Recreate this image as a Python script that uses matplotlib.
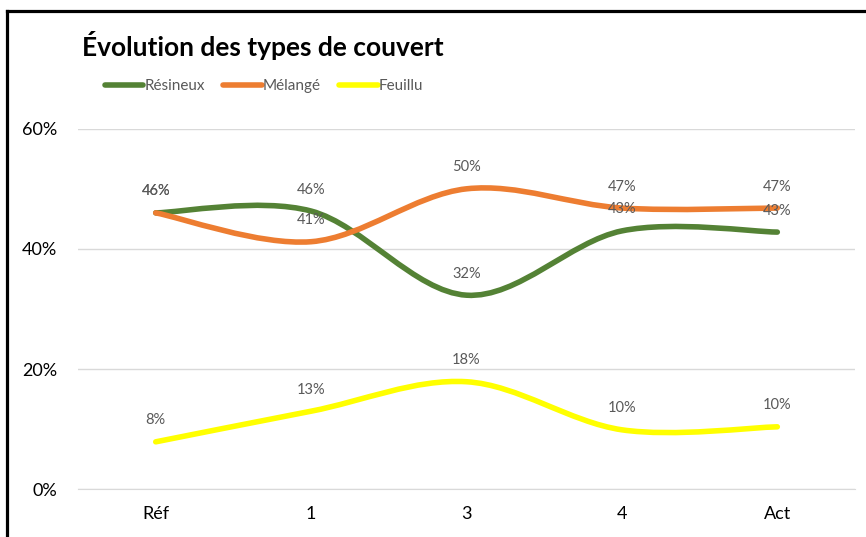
import matplotlib
matplotlib.use("Agg")
import matplotlib.pyplot as plt
from matplotlib.path import Path
from matplotlib.patches import PathPatch
from matplotlib.lines import Line2D
import numpy as np

plt.rcParams['font.family'] = ['Lato', 'DejaVu Sans']

# data
categories = ['Réf', '1', '3', '4', 'Act']
resineux = [0.46, 0.463, 0.323, 0.430, 0.428]
melange = [0.46, 0.412, 0.500, 0.468, 0.468]
feuillu = [0.079, 0.130, 0.179, 0.099, 0.104]
series_names = ['Résineux', 'Mélangé', 'Feuillu']
colors = ['#548235', '#ED7D31', '#FFFF00']
y_ticks = [0, 0.2, 0.4, 0.6]


# Excel-like smoothed line: cubic bezier through the points
def smooth_path(xs, ys):
    pts = np.column_stack([xs, ys]).astype(float)
    n = len(pts)
    verts = [pts[0]]
    codes = [Path.MOVETO]
    for i in range(n - 1):
        p0 = pts[max(i - 1, 0)]
        p1 = pts[i]
        p2 = pts[i + 1]
        p3 = pts[min(i + 2, n - 1)]
        c1 = p1 + (p2 - p0) / 6.0
        c2 = p2 - (p3 - p1) / 6.0
        verts += [c1, c2, p2]
        codes += [Path.CURVE4] * 3
    return Path(verts, codes)


fig = plt.figure(figsize=(8.66, 5.37), dpi=100)
ax = fig.add_axes([0.0901, 0.0888, 0.8972, 0.6715])

x = np.arange(len(categories))
for name, vals, col in zip(series_names, [resineux, melange, feuillu], colors):
    patch = PathPatch(smooth_path(x, vals), facecolor='none', edgecolor=col,
                      lw=4.0, capstyle='round', joinstyle='round', zorder=3)
    ax.add_patch(patch)
    for xi, v in zip(x, vals):
        ax.annotate(f'{v*100:.0f}%', (xi, v), xytext=(0, 15.5), textcoords='offset points',
                    ha='center', va='center', fontsize=10.5, color='#595959', zorder=4)

ax.set_xlim(-0.5, len(categories) - 0.5)
ax.set_ylim(0, 0.6)
ax.set_xticks(x)
ax.set_xticklabels(categories)
ax.set_yticks(y_ticks)
ax.set_yticklabels([f'{int(t*100)}%' for t in y_ticks])
ax.tick_params(length=0, labelsize=13, colors='#000000')
ax.tick_params(axis='y', pad=15)
ax.tick_params(axis='x', pad=12)
ax.grid(axis='y', color='#d9d9d9', lw=1)
ax.set_axisbelow(True)
for s in ['top', 'right', 'left']:
    ax.spines[s].set_visible(False)
ax.spines['bottom'].set_color('#d9d9d9')

# legend
handles = [Line2D([], [], color=c, lw=4.0, solid_capstyle='round') for c in colors]
leg = fig.legend(handles, series_names, loc='center left', bbox_to_anchor=(0.121, 0.839),
                 ncol=3, frameon=False, fontsize=11, handlelength=2.5, handletextpad=0.1,
                 columnspacing=1.2, borderpad=0, borderaxespad=0)
for t in leg.get_texts():
    t.set_color('#595959')

fig.text(0.0947, 0.915, 'Évolution des types de couvert', fontsize=19, fontweight='bold',
         ha='left', va='center', color='#000000')

# border of the chart frame
fig.add_artist(Line2D([7.5 / 866, 1], [1 - 11 / 537, 1 - 11 / 537], color='black', lw=2.3,
                      transform=fig.transFigure))
fig.add_artist(Line2D([7.5 / 866, 7.5 / 866], [0, 1 - 11 / 537], color='black', lw=2.3,
                      transform=fig.transFigure))

fig.savefig('out.png', dpi=100)
